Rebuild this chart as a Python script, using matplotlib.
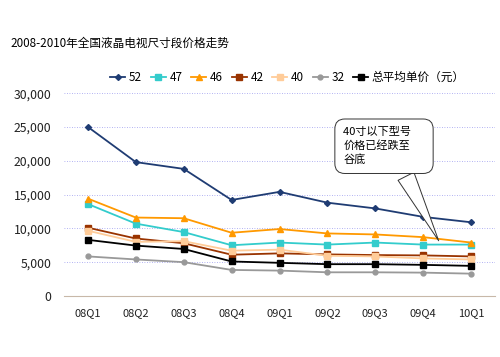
import matplotlib.pyplot as plt

plt.rcParams['font.family'] = ['Noto Sans CJK SC', 'DejaVu Sans']

quarters = ['08Q1', '08Q2', '08Q3', '08Q4', '09Q1', '09Q2', '09Q3', '09Q4', '10Q1']

precio_52 = [25000, 19800, 18800, 14200, 15400, 13800, 12950, 11700, 10900]
precio_47 = [13600, 10700, 9450, 7500, 7900, 7600, 7900, 7600, 7600]
precio_46 = [14400, 11600, 11500, 9350, 9900, 9250, 9100, 8700, 7900]
precio_42 = [10100, 8500, 7800, 6100, 6300, 6150, 6050, 6000, 5850]
precio_40 = [9650, 8000, 8100, 6700, 6850, 5950, 5850, 5550, 5400]
precio_32 = [5850, 5400, 5000, 3850, 3750, 3500, 3500, 3450, 3300]
precio_medio = [8300, 7450, 6950, 5100, 4900, 4700, 4700, 4600, 4450]

series = [
    ('52', precio_52, '#1F3C73', 'D', 3),
    ('47', precio_47, '#33CCCC', 's', 4),
    ('46', precio_46, '#FF9900', '^', 5),
    ('42', precio_42, '#993300', 's', 4),
    ('40', precio_40, '#FFCC99', 's', 4),
    ('32', precio_32, '#999999', 'o', 3.5),
    ('总平均单价（元）', precio_medio, '#000000', 's', 4),
]

fig = plt.figure(figsize=(5, 3.57), dpi=100)
ax = fig.add_axes([0.128, 0.171, 0.862, 0.568])

x = list(range(len(quarters)))
for nombre, valores, color, marcador, tam in series:
    ax.plot(x, valores, color=color, lw=1.3, marker=marcador, ms=tam, label=nombre)

ax.set_xlim(-0.5, 8.5)
ax.set_ylim(0, 30000)
ax.set_yticks(range(0, 30001, 5000))
ax.set_yticklabels([f'{v:,}' for v in range(0, 30001, 5000)])
ax.set_xticks(x)
ax.set_xticklabels(quarters)
ax.tick_params(length=0, labelsize=8, colors='#222222')
ax.tick_params(axis='y', labelsize=8.8, pad=9)
ax.tick_params(axis='x', pad=9)
ax.grid(axis='y', color='#9999EE', ls=(0, (1, 2)), lw=0.6)
ax.set_axisbelow(True)
for lado in ['top', 'right', 'left']:
    ax.spines[lado].set_visible(False)
ax.spines['bottom'].set_color('#C8B8A8')

fig.text(0.02, 0.88, '2008-2010年全国液晶电视尺寸段价格走势', fontsize=8.4, va='center')

fig.legend(loc='center', bbox_to_anchor=(0.575, 0.782), ncol=7, frameon=False,
           fontsize=8.4, handlelength=1.3, handletextpad=0.3, columnspacing=0.75,
           borderaxespad=0)

ax.annotate('40寸以下型号　 \n价格已经跌至\n谷底', xy=(7.35, 7800), xytext=(5.33, 22150),
            fontsize=8, va='center', ha='left', linespacing=1.35,
            bbox=dict(boxstyle='round,pad=0.75,rounding_size=0.9', fc='white', ec='#333333', lw=0.7),
            arrowprops=dict(arrowstyle='wedge,tail_width=1.6,shrink_factor=0.5', fc='white',
                            ec='#333333', lw=0.7, relpos=(0.7, 0)))

fig.savefig('out.png')
